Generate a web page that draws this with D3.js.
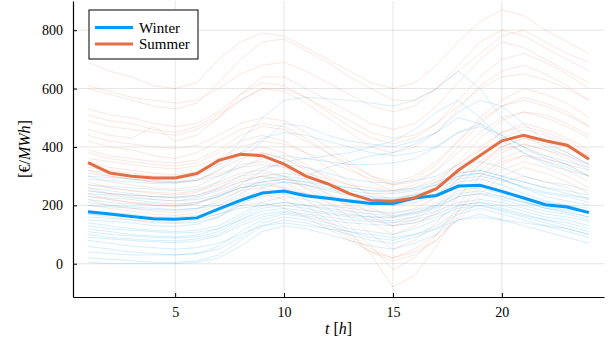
<!DOCTYPE html>
<html>
<head>
<meta charset="utf-8">
<script src="https://cdn.jsdelivr.net/npm/d3@7"></script>
<style>
  body { margin: 0; background: #fff; }
  text { font-family: "Liberation Serif", "DejaVu Serif", serif; fill: #000; }
</style>
</head>
<body>
<svg id="chart" width="610" height="343"></svg>
<script>
const hours = d3.range(1, 25);
const xTicks = [5, 10, 15, 20];
const yTicks = [0, 200, 400, 600, 800];

// mean profiles
const winterMean = [178,170,162,154,152,157,188,217,242,249,233,224,215,206,206,225,234,266,269,248,225,202,194,175];
const summerMean = [346,311,300,294,294,309,354,375,370,341,300,274,240,217,214,226,257,320,371,421,440,421,406,358];

// individual winter days (faint)
const winterDays = [
  [290,285,280,275,278,285,320,380,430,450,440,420,400,380,370,380,400,450,470,440,400,360,340,320],
  [250,240,235,230,228,235,260,300,330,340,330,310,290,280,275,285,300,340,350,330,300,280,270,250],
  [120,110,100,95,92,98,120,160,200,210,200,185,170,160,158,170,190,230,240,220,200,180,170,150],
  [60,50,40,35,30,35,60,110,150,170,160,140,120,110,100,120,150,200,210,190,170,150,130,110],
  [20,15,10,5,5,10,30,80,130,150,140,120,100,80,70,90,120,170,190,170,150,130,110,90],
  [200,195,190,185,183,190,210,250,290,300,290,270,260,250,245,255,270,300,310,290,260,240,230,210],
  [320,310,300,295,290,300,340,420,500,560,570,565,560,550,540,560,600,660,600,500,440,400,370,340],
  [150,145,140,130,128,135,160,200,240,250,240,230,220,215,210,220,240,280,290,270,240,215,200,180],
  [100,90,85,80,78,85,100,140,170,180,170,160,150,145,140,150,170,200,210,200,180,160,150,130],
  [180,175,170,160,160,165,180,210,230,240,230,220,210,205,200,210,230,260,270,250,230,210,200,190],
  [260,250,240,230,225,230,250,280,300,310,300,330,350,370,380,410,450,500,480,420,380,340,320,300],
  [140,130,120,115,110,115,130,170,210,230,220,200,190,180,175,185,200,240,250,230,210,190,180,160],
  [80,70,60,55,50,55,70,100,130,140,130,120,110,100,90,100,120,150,160,150,140,130,120,100],
  [210,200,195,190,185,190,200,240,280,290,280,260,250,240,240,250,270,310,320,300,280,260,240,220],
  [40,35,30,30,30,35,50,90,140,160,150,130,110,90,80,100,130,180,200,180,160,140,120,100],
  [300,295,290,280,280,285,300,330,360,370,360,350,340,340,345,360,400,450,480,440,400,370,350,330],
  [170,165,160,150,150,155,170,190,200,210,200,190,180,170,165,175,195,230,240,230,210,195,185,175],
  [130,120,115,110,105,108,120,150,180,190,180,170,160,150,148,160,180,210,220,210,190,170,160,145],
  [230,225,220,210,205,210,230,260,280,290,280,270,260,250,250,260,280,310,320,300,280,260,250,235],
  [270,265,260,255,250,255,280,350,420,480,470,440,420,410,400,420,450,520,560,540,480,420,380,340],
  [220,210,205,200,198,205,230,270,320,350,360,370,380,400,420,460,520,560,500,430,380,350,330,300],
  [110,100,95,90,88,92,110,150,190,200,190,175,165,160,160,175,200,250,260,240,215,190,175,160],
  [240,235,225,220,215,220,235,260,270,280,270,255,240,230,225,235,255,290,300,285,265,245,235,225],
  [5,0,0,0,0,5,20,60,110,130,120,100,80,60,50,70,100,150,170,150,130,110,90,70],
  [160,155,150,140,138,142,160,210,260,280,270,250,235,225,220,235,260,300,310,290,260,230,215,200],
  [90,85,80,75,72,78,95,130,160,175,165,150,140,135,130,140,160,190,200,185,165,150,140,120]
];

// individual summer days (faint)
const summerDays = [
  [690,660,640,610,600,620,700,760,790,780,740,700,660,620,600,620,680,760,830,870,850,800,760,720],
  [610,590,570,560,550,560,600,650,680,690,660,620,580,540,520,540,600,680,760,800,780,740,700,660],
  [530,510,500,480,470,480,520,580,620,610,570,520,470,430,410,430,480,560,640,700,720,690,650,600],
  [510,490,480,460,450,470,510,560,600,590,550,500,450,400,380,400,450,530,610,660,680,650,610,560],
  [440,420,410,400,395,405,440,480,500,490,450,400,350,300,270,290,340,420,500,560,600,580,550,500],
  [420,400,390,370,360,380,420,460,480,470,430,380,330,280,250,270,320,400,480,540,570,550,520,470],
  [380,360,350,340,335,345,380,420,440,420,380,330,280,230,200,220,270,350,430,490,520,500,470,430],
  [350,330,320,310,305,315,350,380,400,380,340,290,240,190,160,180,230,310,390,450,480,460,430,390],
  [320,300,290,280,275,285,320,360,380,360,320,270,220,170,140,160,210,290,370,430,460,440,410,370],
  [300,280,270,260,255,265,300,340,350,330,290,240,190,140,100,130,180,260,340,400,430,410,380,340],
  [280,260,250,240,235,245,280,310,320,300,260,210,160,100,50,80,140,230,320,380,410,390,360,320],
  [260,240,230,220,215,225,260,290,300,280,240,190,130,60,-20,20,100,200,300,360,390,370,340,300],
  [240,220,210,200,195,205,240,270,280,260,220,170,110,30,-80,-40,60,180,280,340,370,350,320,280],
  [220,200,190,180,175,185,220,250,260,240,200,150,100,50,20,50,100,180,260,320,350,330,300,260],
  [200,190,180,170,165,175,200,230,240,220,180,140,90,40,10,30,80,160,240,300,330,310,280,240],
  [170,160,150,145,140,150,170,200,210,190,160,120,80,40,20,40,80,150,220,280,300,280,260,220],
  [460,440,430,470,420,440,500,580,640,640,600,560,520,480,460,480,540,620,700,760,740,700,660,620],
  [600,580,560,540,530,550,620,700,760,770,730,690,640,600,560,560,600,660,720,780,800,760,720,690],
  [330,320,310,300,300,310,340,370,380,360,330,300,270,240,220,240,280,340,400,450,470,450,420,380],
  [390,370,360,350,345,355,390,440,470,460,420,380,340,300,280,300,350,420,490,540,560,540,510,470],
  [270,260,250,245,240,250,270,300,310,300,270,240,200,160,130,150,200,270,340,390,410,390,370,330],
  [310,300,290,285,280,290,310,330,340,330,310,290,270,260,250,260,290,340,390,420,440,420,400,370],
  [360,350,340,330,325,335,360,400,420,410,380,350,320,290,270,280,320,380,450,500,520,510,480,440],
  [230,220,210,205,200,210,230,260,270,260,240,210,180,150,130,140,170,230,300,350,370,360,340,300],
  [490,470,460,450,440,460,500,560,600,600,570,530,490,450,430,440,480,540,600,640,650,630,600,560],
  [250,240,235,230,228,236,255,280,300,290,260,230,200,180,170,190,230,290,350,400,430,420,400,360]
];

const winterColor = '#009af9';
const summerColor = '#e26f46';

const margin = { top: 1, right: 6, bottom: 46, left: 73 };
const width = 610 - margin.left - margin.right;
const height = 343 - margin.top - margin.bottom;

const svg = d3.select('#chart');
const chart = svg.append('g')
  .attr('transform', `translate(${margin.left},${margin.top})`);

const xScale = d3.scaleLinear().domain([0.31, 24.69]).range([0, width]);
const yScale = d3.scaleLinear().domain([-114, 900]).range([height, 0]);

// grid
chart.append('g').selectAll('line').data(xTicks).enter().append('line')
  .attr('x1', d => xScale(d)).attr('x2', d => xScale(d))
  .attr('y1', 0).attr('y2', height)
  .attr('stroke', '#000').attr('stroke-opacity', 0.1).attr('stroke-width', 1);
chart.append('g').selectAll('line').data(yTicks).enter().append('line')
  .attr('x1', 0).attr('x2', width)
  .attr('y1', d => yScale(d)).attr('y2', d => yScale(d))
  .attr('stroke', '#000').attr('stroke-opacity', 0.1).attr('stroke-width', 1);

const line = d3.line()
  .x((d, i) => xScale(hours[i]))
  .y(d => yScale(d));

// faint days
chart.append('g').selectAll('path').data(winterDays).enter().append('path')
  .attr('d', line).attr('fill', 'none')
  .attr('stroke', winterColor).attr('stroke-opacity', 0.17).attr('stroke-width', 1);
chart.append('g').selectAll('path').data(summerDays).enter().append('path')
  .attr('d', line).attr('fill', 'none')
  .attr('stroke', summerColor).attr('stroke-opacity', 0.17).attr('stroke-width', 1);

// means
chart.append('path').datum(winterMean).attr('d', line).attr('fill', 'none')
  .attr('stroke', winterColor).attr('stroke-width', 3);
chart.append('path').datum(summerMean).attr('d', line).attr('fill', 'none')
  .attr('stroke', summerColor).attr('stroke-width', 3);

// axes
const xAxis = d3.axisBottom(xScale).tickValues(xTicks).tickSizeInner(-4).tickSizeOuter(0).tickPadding(10);
const yAxis = d3.axisLeft(yScale).tickValues(yTicks).tickSizeInner(-4).tickSizeOuter(0).tickPadding(10);

const gx = chart.append('g').attr('transform', `translate(0,${height})`).call(xAxis);
const gy = chart.append('g').call(yAxis);
[gx, gy].forEach(g => {
  g.select('.domain').attr('stroke', '#000').attr('stroke-width', 1.2);
  g.selectAll('.tick line').attr('stroke', '#000');
  g.selectAll('.tick text').style('font-family', '"Liberation Serif", serif').style('font-size', '14px').attr('fill', '#000');
});

// axis labels
svg.append('text')
  .attr('x', margin.left + width / 2).attr('y', 334)
  .attr('text-anchor', 'middle').style('font-size', '16px')
  .html('<tspan font-style="italic">t</tspan> [<tspan font-style="italic">h</tspan>]');

svg.append('text')
  .attr('transform', `translate(30,${margin.top + height / 2}) rotate(-90)`)
  .attr('text-anchor', 'middle').style('font-size', '16px')
  .html('[€/<tspan font-style="italic">MWh</tspan>]');

// legend
const legend = svg.append('g').attr('transform', 'translate(89,10)');
legend.append('rect').attr('width', 109).attr('height', 49)
  .attr('fill', '#fff').attr('stroke', '#000').attr('stroke-width', 1);
const legendItems = [['Winter', winterColor], ['Summer', summerColor]];
legendItems.forEach(([name, color], i) => {
  const y = 17.5 + i * 16.5;
  legend.append('line').attr('x1', 6).attr('x2', 44).attr('y1', y).attr('y2', y)
    .attr('stroke', color).attr('stroke-width', 3);
  legend.append('text').attr('x', 50).attr('y', y + 5)
    .style('font-size', '15px').text(name);
});
</script>
</body>
</html>
